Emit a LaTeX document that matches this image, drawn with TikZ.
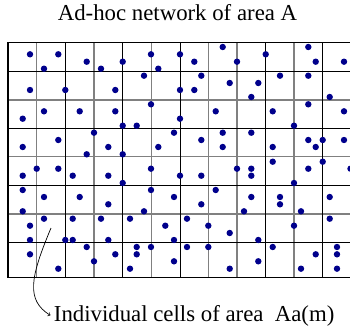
\documentclass[tikz,border=0pt]{standalone}
\usepackage{fontspec}
\setmainfont{Liberation Serif}
\usepackage{xcolor}
\usetikzlibrary{positioning}
\definecolor{nodeblue}{RGB}{0,0,140}
\tikzset{
  bigtext/.style={font=\fontsize{22.8}{27}\selectfont},
  cellline/.style={black,line width=1pt},
  halfline/.style={gray,line width=1.4pt},
  station/.style={fill=nodeblue}
}

\begin{document}
\begin{tikzpicture}[x=1pt,y=-1pt]
  \useasboundingbox (0,0) rectangle (350,329);
  % grid of the area
  \foreach \x in {36.7,94,151.3,208.3,237,294}
    \draw[halfline] (\x,42.7) -- (\x,277.7);
  \foreach \y in {100,156.7,214}
    \draw[halfline] (8,\y) -- (352,\y);
  \foreach \x in {65.3,122.7,180,265.7,322.7}
    \draw[cellline] (\x,42.7) -- (\x,277.7);
  \foreach \y in {71.3,128.3,185.3,242.3}
    \draw[cellline] (8,\y) -- (352,\y);
  \draw[black,line width=1.3pt] (8,42.7) rectangle (352,277.7);
  % mobile stations
  \foreach \x/\y in {30/54.3,58.3/54.3,44/68.7,86.7/61.7,101/68.7,122.7/61.7,151/54.3,158.3/68.7,
      180/54.3,194.3/61.7,222.7/47,237/61.7,265.7/54.3,308.3/47,315.7/61.7,344/61.7,
      144/75.7,30/90,65.3/90,115.3/90,201.3/75.7,280/75.7,308.3/75.7,229.7/83,258.3/83,
      180/90,194.3/90,251.3/97,329.7/97,
      151/104.3,44/111.3,79.7/111.3,115.3/111.3,22.7/118.7,122.7/125.7,136.7/125.7,
      308.3/104.3,215.7/111.3,272.7/111.3,344/111.3,180/118.7,294/125.7,
      94/132.7,174/132.7,58.3/140,22.7/147,108.3/147,158.3/147,86.7/154.3,122.7/154.3,
      222.7/132.7,251.3/132.7,201.3/140,308.3/140,322.7/140,344/140,222.7/147,272.7/147,315.7/147,
      22.7/175.7,36.7/168.7,58.3/168.7,72.7/175.7,108.3/175.7,151/168.7,122.7/183,
      272.7/161.7,180/175.7,201.3/175.7,237/168.7,251.3/168.7,251.3/175.7,308.3/168.7,
      322.7/161.7,350.5/168.7,294/183,
      22.7/190,44/197,79.7/197,108.3/204.3,151/190,174/197,22.7/211.3,144/211.3,
      215.7/190,251.3/197,280/197,280/204.3,329.7/197,201.3/204.3,244/211.3,301/211.3,
      44/218.7,72.7/218.7,101/218.7,130/218.7,30/225.7,165.3/225.7,30/240,65.3/240,
      72.7/240,108.3/240,174/240,187/218.7,329.7/218.7,208.3/225.7,294/225.7,229.7/233,258.3/240,
      86.7/247,136.7/247,151/247,30/254.3,115.3/254.3,136.7/254.3,94/261.3,174/261.3,
      58.3/268.7,130/268.7,187/247,208.3/247,272.7/247,337/247,315.7/254.3,337/254.3,
      258.3/261.3,229.7/268.7,301/268.7,337/268.7}
    \fill[station] (\x,\y) circle (3.2);
  % labels
  \node[bigtext,anchor=base] (title) at (177.5,20.7) {Ad-hoc network of area A};
  \node[bigtext,anchor=base west] (cells) at (50.4,321) {Individual cells of area\ \ Aa(m)};
  \coordinate (cellpt) at (51,228);
  \draw[->,line width=0.7pt] (cellpt) .. controls (30,278) and (26,300) .. (cells.west);
\end{tikzpicture}
\end{document}
